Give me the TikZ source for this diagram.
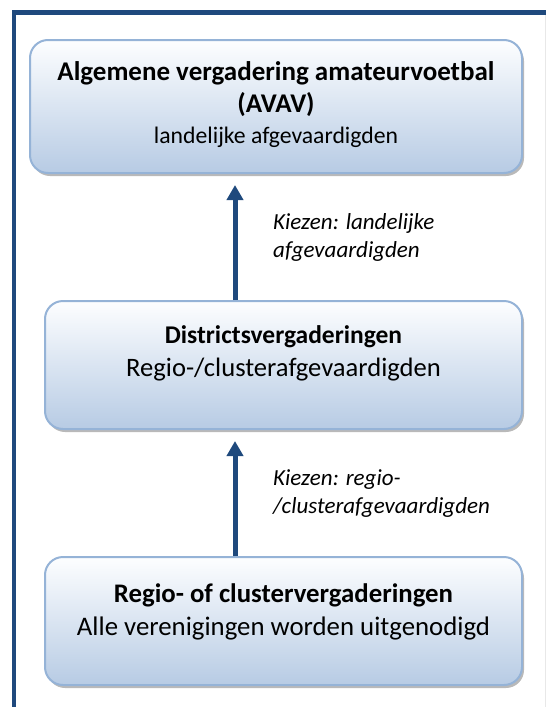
\documentclass[tikz,border=0pt]{standalone}
\usepackage{fontspec}
\setmainfont{Carlito}
\usetikzlibrary{arrows.meta,shadows}

\definecolor{frameblue}{HTML}{1F497D}
\definecolor{boxtop}{HTML}{FDFEFF}
\definecolor{boxbottom}{HTML}{B7CBE4}
\definecolor{boxline}{HTML}{95B3D7}
\definecolor{edgegray}{HTML}{E8E8E8}

\newcommand{\fsz}[2]{\fontsize{#1}{#2}\selectfont}

\begin{document}
\begin{tikzpicture}[x=1pt,y=-1pt,
  stage/.style={draw=boxline, line width=2pt, rounded corners=18pt,
    top color=boxtop, bottom color=boxbottom,
    drop shadow={shadow xshift=2pt, shadow yshift=-3pt, fill=black!50, opacity=0.55}},
  stagetext/.style={align=center, inner sep=0pt, anchor=base, text=black},
  link/.style={draw=frameblue, line width=5pt,
    -{Triangle[length=15pt,width=16pt]}},
  choice/.style={align=left, inner sep=0pt, anchor=base west, text=black,
    font={\fsz{23}{28}\itshape}}
]
\useasboundingbox (0,0) rectangle (546,707);

% page frame
\draw[edgegray, line width=1pt] (545,15) -- (545,707);
\draw[frameblue, line width=4.5pt] (14,707) -- (14,12.5) -- (546,12.5);

% the three meeting levels
\node[stage, minimum width=492pt, minimum height=133pt] (avav) at (276,106.5) {};
\node[stage, minimum width=477pt, minimum height=128pt] (district) at (283.5,365) {};
\node[stage, minimum width=477pt, minimum height=128pt] (regio) at (283.5,621) {};

% texts, anchored on the baseline of their last line
\node[stagetext, font={\fsz{27}{31.5}}] (avavtext) at (avav.north |- 0,143.5)
  {\bfseries Algemene vergadering amateurvoetbal\\\bfseries (AVAV)\\\fsz{23.7}{31.5}landelijke afgevaardigden};
\node[stagetext, font={\fsz{26.6}{33}}] (districttext) at (district.north |- 0,376)
  {\fsz{25.5}{33}\bfseries Districtsvergaderingen\\Regio-/clusterafgevaardigden};
\node[stagetext, font={\fsz{26.8}{33}}] (regiotext) at (regio.north |- 0,635)
  {\bfseries Regio- of clustervergaderingen\\Alle verenigingen worden uitgenodigd};

% election arrows
\coordinate (ax) at (235,0);
\draw[link, shorten >=11pt] (district.north -| ax) -- (avav.south -| ax);
\draw[link, shorten >=11pt] (regio.north -| ax) -- (district.south -| ax);

\node[choice] (choice1) at (273,257) {Kiezen: landelijke\\afgevaardigden};
\node[choice] (choice2) at (273,513) {Kiezen: regio-\\/clusterafgevaardigden};
\end{tikzpicture}
\end{document}
